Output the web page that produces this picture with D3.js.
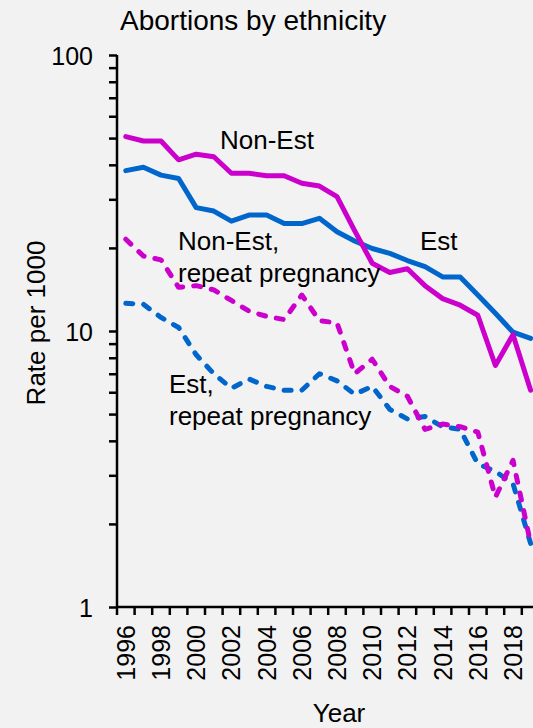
<!DOCTYPE html>
<html>
<head>
<meta charset="utf-8">
<script src="https://cdn.jsdelivr.net/npm/d3@7"></script>
<style>
  html, body { margin: 0; padding: 0; background: #f2f2f2; }
  svg { display: block; font-family: "Liberation Sans", Arial, sans-serif; }
</style>
</head>
<body>
<div id="chart"></div>
<script>
// values (rate per 1000, log scale)
const years = [1996, 1997, 1998, 1999, 2000, 2001, 2002, 2003, 2004, 2005, 2006, 2007,
               2008, 2009, 2010, 2011, 2012, 2013, 2014, 2015, 2016, 2017, 2018, 2019];
const estAll = [38.1, 39.2, 36.7, 35.7, 28.0, 27.2, 25.0, 26.3, 26.3, 24.5, 24.5, 25.6,
                22.9, 21.2, 19.9, 19.1, 18.0, 17.1, 15.7, 15.7, 13.5, 11.6, 9.9, 9.4];
const nonEstAll = [50.6, 48.8, 48.8, 41.7, 43.7, 42.8, 37.3, 37.3, 36.5, 36.5, 34.3, 33.5,
                   30.7, 23.1, 17.6, 16.3, 16.8, 14.6, 13.1, 12.4, 11.4, 7.5, 9.7, 6.1];
const estRepeat = [12.6, 12.5, 11.2, 10.3, 8.2, 7.0, 6.2, 6.7, 6.3, 6.1, 6.1, 7.0,
                   6.6, 5.9, 6.3, 5.2, 4.8, 4.9, 4.5, 4.4, 3.3, 3.1, 2.8, 1.7];
const nonEstRepeat = [21.5, 18.7, 18.1, 14.4, 14.6, 14.1, 12.9, 11.8, 11.3, 11.0, 13.5, 10.9,
                      10.7, 7.0, 7.9, 6.3, 5.8, 4.4, 4.6, 4.5, 4.3, 2.5, 3.4, 1.7];
const yMajor = [1, 10, 100];
const xLabelYears = [1996, 1998, 2000, 2002, 2004, 2006, 2008, 2010, 2012, 2014, 2016, 2018];

const width = 533, height = 728;
const plotLeft = 117, plotTop = 55, plotBottom = 607;
const bandW = 17.6;

const blue = "#0066cc", magenta = "#cc00cc";

const svg = d3.select("#chart").append("svg")
  .attr("width", width)
  .attr("height", height);

svg.append("rect").attr("width", width).attr("height", height).attr("fill", "#f2f2f2");

const x = d3.scaleBand()
  .domain(years)
  .range([plotLeft, plotLeft + bandW * years.length])
  .padding(0);

const y = d3.scaleLog()
  .domain([1, 100])
  .range([plotBottom, plotTop]);

const cx = d => x(d) + x.bandwidth() / 2;

// title
svg.append("text")
  .attr("x", 120).attr("y", 30)
  .attr("font-size", 28)
  .text("Abortions by ethnicity");

// y axis with minor ticks
const yTicks = [];
for (let dec = 1; dec < 100; dec *= 10) {
  for (let k = 1; k < 10; k++) yTicks.push(dec * k);
}
yTicks.push(100);

const yAxis = d3.axisLeft(y)
  .tickValues(yTicks)
  .tickSize(8)
  .tickFormat(d => yMajor.includes(d) ? d : "");

const gy = svg.append("g")
  .attr("transform", `translate(${plotLeft},0)`)
  .call(yAxis);
gy.select(".domain").attr("stroke", "#000").attr("stroke-width", 2.5).attr("d", `M0,${plotTop}V${plotBottom}`);
gy.selectAll(".tick line").attr("stroke", "#000").attr("stroke-width", 2.5);
gy.selectAll(".tick text")
  .attr("font-size", 25)
  .attr("font-family", "Liberation Sans, Arial, sans-serif")
  .attr("fill", "#000")
  .attr("x", -24)
  .attr("dy", "0.36em");

// x axis: ticks between categories
const gx = svg.append("g");
gx.append("line")
  .attr("x1", plotLeft).attr("x2", width + 20)
  .attr("y1", plotBottom).attr("y2", plotBottom)
  .attr("stroke", "#000").attr("stroke-width", 2.5);
gx.selectAll("line.tick")
  .data(years.concat([2020]))
  .join("line")
  .attr("class", "tick")
  .attr("x1", d => d === 2020 ? x.range()[1] : x(d))
  .attr("x2", d => d === 2020 ? x.range()[1] : x(d))
  .attr("y1", plotBottom).attr("y2", plotBottom + 8)
  .attr("stroke", "#000").attr("stroke-width", 2.5);
gx.selectAll("text")
  .data(xLabelYears)
  .join("text")
  .attr("transform", d => `translate(${cx(d)},${plotBottom + 18}) rotate(-90)`)
  .attr("text-anchor", "end")
  .attr("dy", "0.36em")
  .attr("font-size", 25)
  .text(d => d);

// axis titles
svg.append("text")
  .attr("x", 339).attr("y", 722)
  .attr("text-anchor", "middle")
  .attr("font-size", 26)
  .text("Year");

svg.append("text")
  .attr("transform", `translate(45,${(plotTop + plotBottom) / 2 - 8}) rotate(-90)`)
  .attr("text-anchor", "middle")
  .attr("font-size", 26)
  .text("Rate per 1000");

// lines
const line = d3.line()
  .x((d, i) => cx(years[i]))
  .y(d => y(d));

const series = [
  { values: estRepeat, color: blue, dash: "7 11" },
  { values: nonEstRepeat, color: magenta, dash: "7 11" },
  { values: estAll, color: blue, dash: null },
  { values: nonEstAll, color: magenta, dash: null }
];

svg.append("g").selectAll("path")
  .data(series)
  .join("path")
  .attr("d", d => line(d.values))
  .attr("fill", "none")
  .attr("stroke", d => d.color)
  .attr("stroke-width", 5)
  .attr("stroke-linejoin", "round")
  .attr("stroke-linecap", "round")
  .attr("stroke-dasharray", d => d.dash);

// series labels
const labels = [
  { lines: ["Non-Est"], x: 220, y: 149 },
  { lines: ["Est"], x: 420, y: 250 },
  { lines: ["Non-Est,", "repeat pregnancy"], x: 178, y: 250 },
  { lines: ["Est,", "repeat pregnancy"], x: 169, y: 393 }
];
labels.forEach(l => {
  const t = svg.append("text")
    .attr("x", l.x).attr("y", l.y)
    .attr("font-size", 26);
  l.lines.forEach((s, i) => {
    t.append("tspan").attr("x", l.x).attr("dy", i === 0 ? 0 : 32).text(s);
  });
});
</script>
</body>
</html>
